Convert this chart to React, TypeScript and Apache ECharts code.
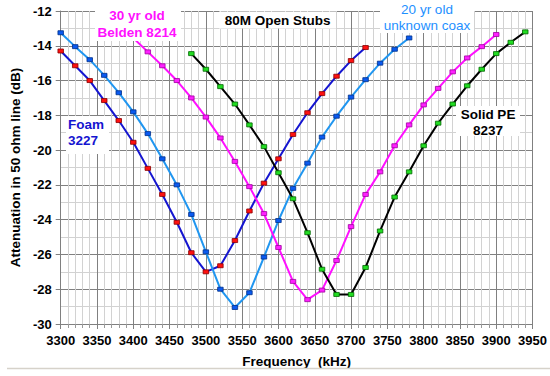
import React, { useEffect, useRef } from "react";
import * as echarts from "echarts";

// Frequencies (kHz) and measured attenuation (dB) for each stub
const foamFreq = [3300, 3320, 3340, 3360, 3380, 3400, 3420, 3440, 3460, 3480, 3500, 3520, 3540, 3560, 3580, 3600, 3620, 3640, 3660, 3680, 3700, 3720];
const foamDb = [-14.3, -15.15, -16.0, -17.15, -18.3, -19.55, -21.05, -22.55, -24.15, -25.9, -27.0, -26.65, -25.2, -23.5, -21.9, -20.5, -19.1, -17.85, -16.75, -15.75, -14.85, -14.1];

const unknownFreq = [3300, 3320, 3340, 3360, 3380, 3400, 3420, 3440, 3460, 3480, 3500, 3520, 3540, 3560, 3580, 3600, 3620, 3640, 3660, 3680, 3700, 3720, 3740, 3760, 3780];
const unknownDb = [-13.25, -14.05, -14.8, -15.7, -16.7, -17.8, -19.05, -20.5, -22.0, -23.7, -25.85, -28.0, -29.05, -28.2, -26.15, -24.05, -22.2, -20.75, -19.25, -18.05, -16.95, -15.95, -15.0, -14.2, -13.55];

const beldenFreq = [3400, 3420, 3440, 3460, 3480, 3500, 3520, 3540, 3560, 3580, 3600, 3620, 3640, 3660, 3680, 3700, 3720, 3740, 3760, 3780, 3800, 3820, 3840, 3860, 3880, 3900];
const beldenDb = [-13.55, -14.35, -15.15, -16.0, -17.0, -18.1, -19.3, -20.65, -22.1, -23.65, -25.6, -27.55, -28.6, -28.05, -26.35, -24.4, -22.55, -21.25, -19.75, -18.55, -17.4, -16.45, -15.5, -14.7, -14.05, -13.35];

const solidFreq = [3480, 3500, 3520, 3540, 3560, 3580, 3600, 3620, 3640, 3660, 3680, 3700, 3720, 3740, 3760, 3780, 3800, 3820, 3840, 3860, 3880, 3900, 3920, 3940];
const solidDb = [-14.45, -15.35, -16.35, -17.35, -18.55, -19.8, -21.3, -22.8, -24.75, -26.85, -28.3, -28.3, -26.75, -24.65, -22.7, -21.25, -19.75, -18.45, -17.35, -16.3, -15.35, -14.45, -13.8, -13.2];

const FONT = 'Arial, "Liberation Sans", sans-serif';

function pairs(xs: number[], ys: number[]) {
  return xs.map((x, i) => [x, ys[i]]);
}

function lineSeries(name: string, xs: number[], ys: number[], lineColor: string, markColor: string, markBorder: string) {
  return {
    name,
    type: "line",
    data: pairs(xs, ys),
    symbol: "rect",
    symbolSize: [5.5, 4],
    showSymbol: true,
    lineStyle: { color: lineColor, width: 2 },
    itemStyle: { color: markColor, borderColor: markBorder, borderWidth: 0.8 },
    z: 3,
  };
}

function boxedLabel(x: number, y: number, w: number, h: number, lines: { text: string; x: number; y: number; color: string; weight: string; align: string }[]) {
  return [
    { type: "rect", shape: { x, y, width: w, height: h }, style: { fill: "#ffffff" }, z: 50 },
    ...lines.map((l) => ({
      type: "text",
      x: l.x,
      y: l.y,
      z: 51,
      style: {
        text: l.text,
        fill: l.color,
        font: `${l.weight} 13.5px ${FONT}`,
        textAlign: l.align,
        textVerticalAlign: "middle",
      },
    })),
  ];
}

export default function App() {
  const ref = useRef<HTMLDivElement>(null);

  useEffect(() => {
    if (!ref.current) return;
    const chart = echarts.init(ref.current, null, { renderer: "svg" });
    const axisLabel = { color: "#000", fontWeight: "bold", fontSize: 13, fontFamily: FONT };

    chart.setOption({
      animation: false,
      backgroundColor: "#ffffff",
      grid: { left: 57, right: 17, top: 11, bottom: 52 },
      xAxis: {
        type: "value",
        min: 3300,
        max: 3950,
        interval: 50,
        name: "Frequency  (kHz)",
        nameLocation: "middle",
        nameGap: 30,
        nameTextStyle: { color: "#000", fontWeight: "bold", fontSize: 13.5, fontFamily: FONT },
        axisLine: { show: true, onZero: false, lineStyle: { color: "#808080", width: 1 } },
        axisTick: { show: true, length: 5, lineStyle: { color: "#808080" } },
        minorTick: { show: true, splitNumber: 5, length: 4, lineStyle: { color: "#999" } },
        axisLabel: { ...axisLabel, margin: 10, formatter: (v: number) => String(v) },
        splitLine: { show: true, lineStyle: { color: "#808080", width: 1 } },
        minorSplitLine: { show: true, lineStyle: { color: "#d2d2d2", width: 1 } },
      },
      yAxis: {
        type: "value",
        min: -30,
        max: -12,
        interval: 2,
        name: "Attenuation in 50 ohm line (dB)",
        nameLocation: "middle",
        nameGap: 34,
        nameTextStyle: { color: "#000", fontWeight: "bold", fontSize: 13.5, fontFamily: FONT },
        axisLine: { show: true, onZero: false, lineStyle: { color: "#808080", width: 1 } },
        axisTick: { show: true, length: 5, lineStyle: { color: "#808080" } },
        minorTick: { show: false, splitNumber: 2 },
        axisLabel: { ...axisLabel, margin: 9, formatter: (v: number) => String(v) },
        splitLine: { show: true, lineStyle: { color: "#808080", width: 1 } },
        minorSplitLine: { show: true, lineStyle: { color: "#d2d2d2", width: 1 } },
      },
      series: [
        lineSeries("Foam 3227", foamFreq, foamDb, "#1515d0", "#ff1010", "#8a0000"),
        lineSeries("20 yr old unknown coax", unknownFreq, unknownDb, "#2096f0", "#0a5af0", "#00308a"),
        lineSeries("30 yr old Belden 8214", beldenFreq, beldenDb, "#ff10ff", "#ff20ff", "#a000a0"),
        lineSeries("Solid PE 8237", solidFreq, solidDb, "#000000", "#22dd22", "#006600"),
      ],
      graphic: [
        ...boxedLabel(95, 0, 86, 41, [
          { text: "30 yr old", x: 137, y: 15.5, color: "#ff10ff", weight: "bold", align: "center" },
          { text: "Belden 8214", x: 137, y: 32, color: "#ff10ff", weight: "bold", align: "center" },
        ]),
        ...boxedLabel(219, 11.5, 117, 17, [
          { text: "80M Open Stubs", x: 277.5, y: 20, color: "#000000", weight: "bold", align: "center" },
        ]),
        ...boxedLabel(380, 0, 94, 33, [
          { text: "20 yr old", x: 427, y: 9.5, color: "#1e90ff", weight: "normal", align: "center" },
          { text: "unknown coax", x: 427, y: 25, color: "#1e90ff", weight: "normal", align: "center" },
        ]),
        ...boxedLabel(66, 116, 43, 38, [
          { text: "Foam", x: 68, y: 124.5, color: "#1515d0", weight: "bold", align: "left" },
          { text: "3227", x: 68, y: 140.5, color: "#1515d0", weight: "bold", align: "left" },
        ]),
        ...boxedLabel(456, 106, 64, 30, [
          { text: "Solid PE", x: 488, y: 114.5, color: "#000000", weight: "bold", align: "center" },
          { text: "8237", x: 488, y: 130, color: "#000000", weight: "bold", align: "center" },
        ]),
        {
          type: "line",
          shape: { x1: 7, y1: 368.5, x2: 550, y2: 368.5 },
          style: { stroke: "#d6d2ca", lineWidth: 1.5 },
          z: 1,
        },
      ],
    });

    return () => chart.dispose();
  }, []);

  return <div ref={ref} style={{ width: 550, height: 376, position: "absolute", left: 0, top: 0 }} />;
}
